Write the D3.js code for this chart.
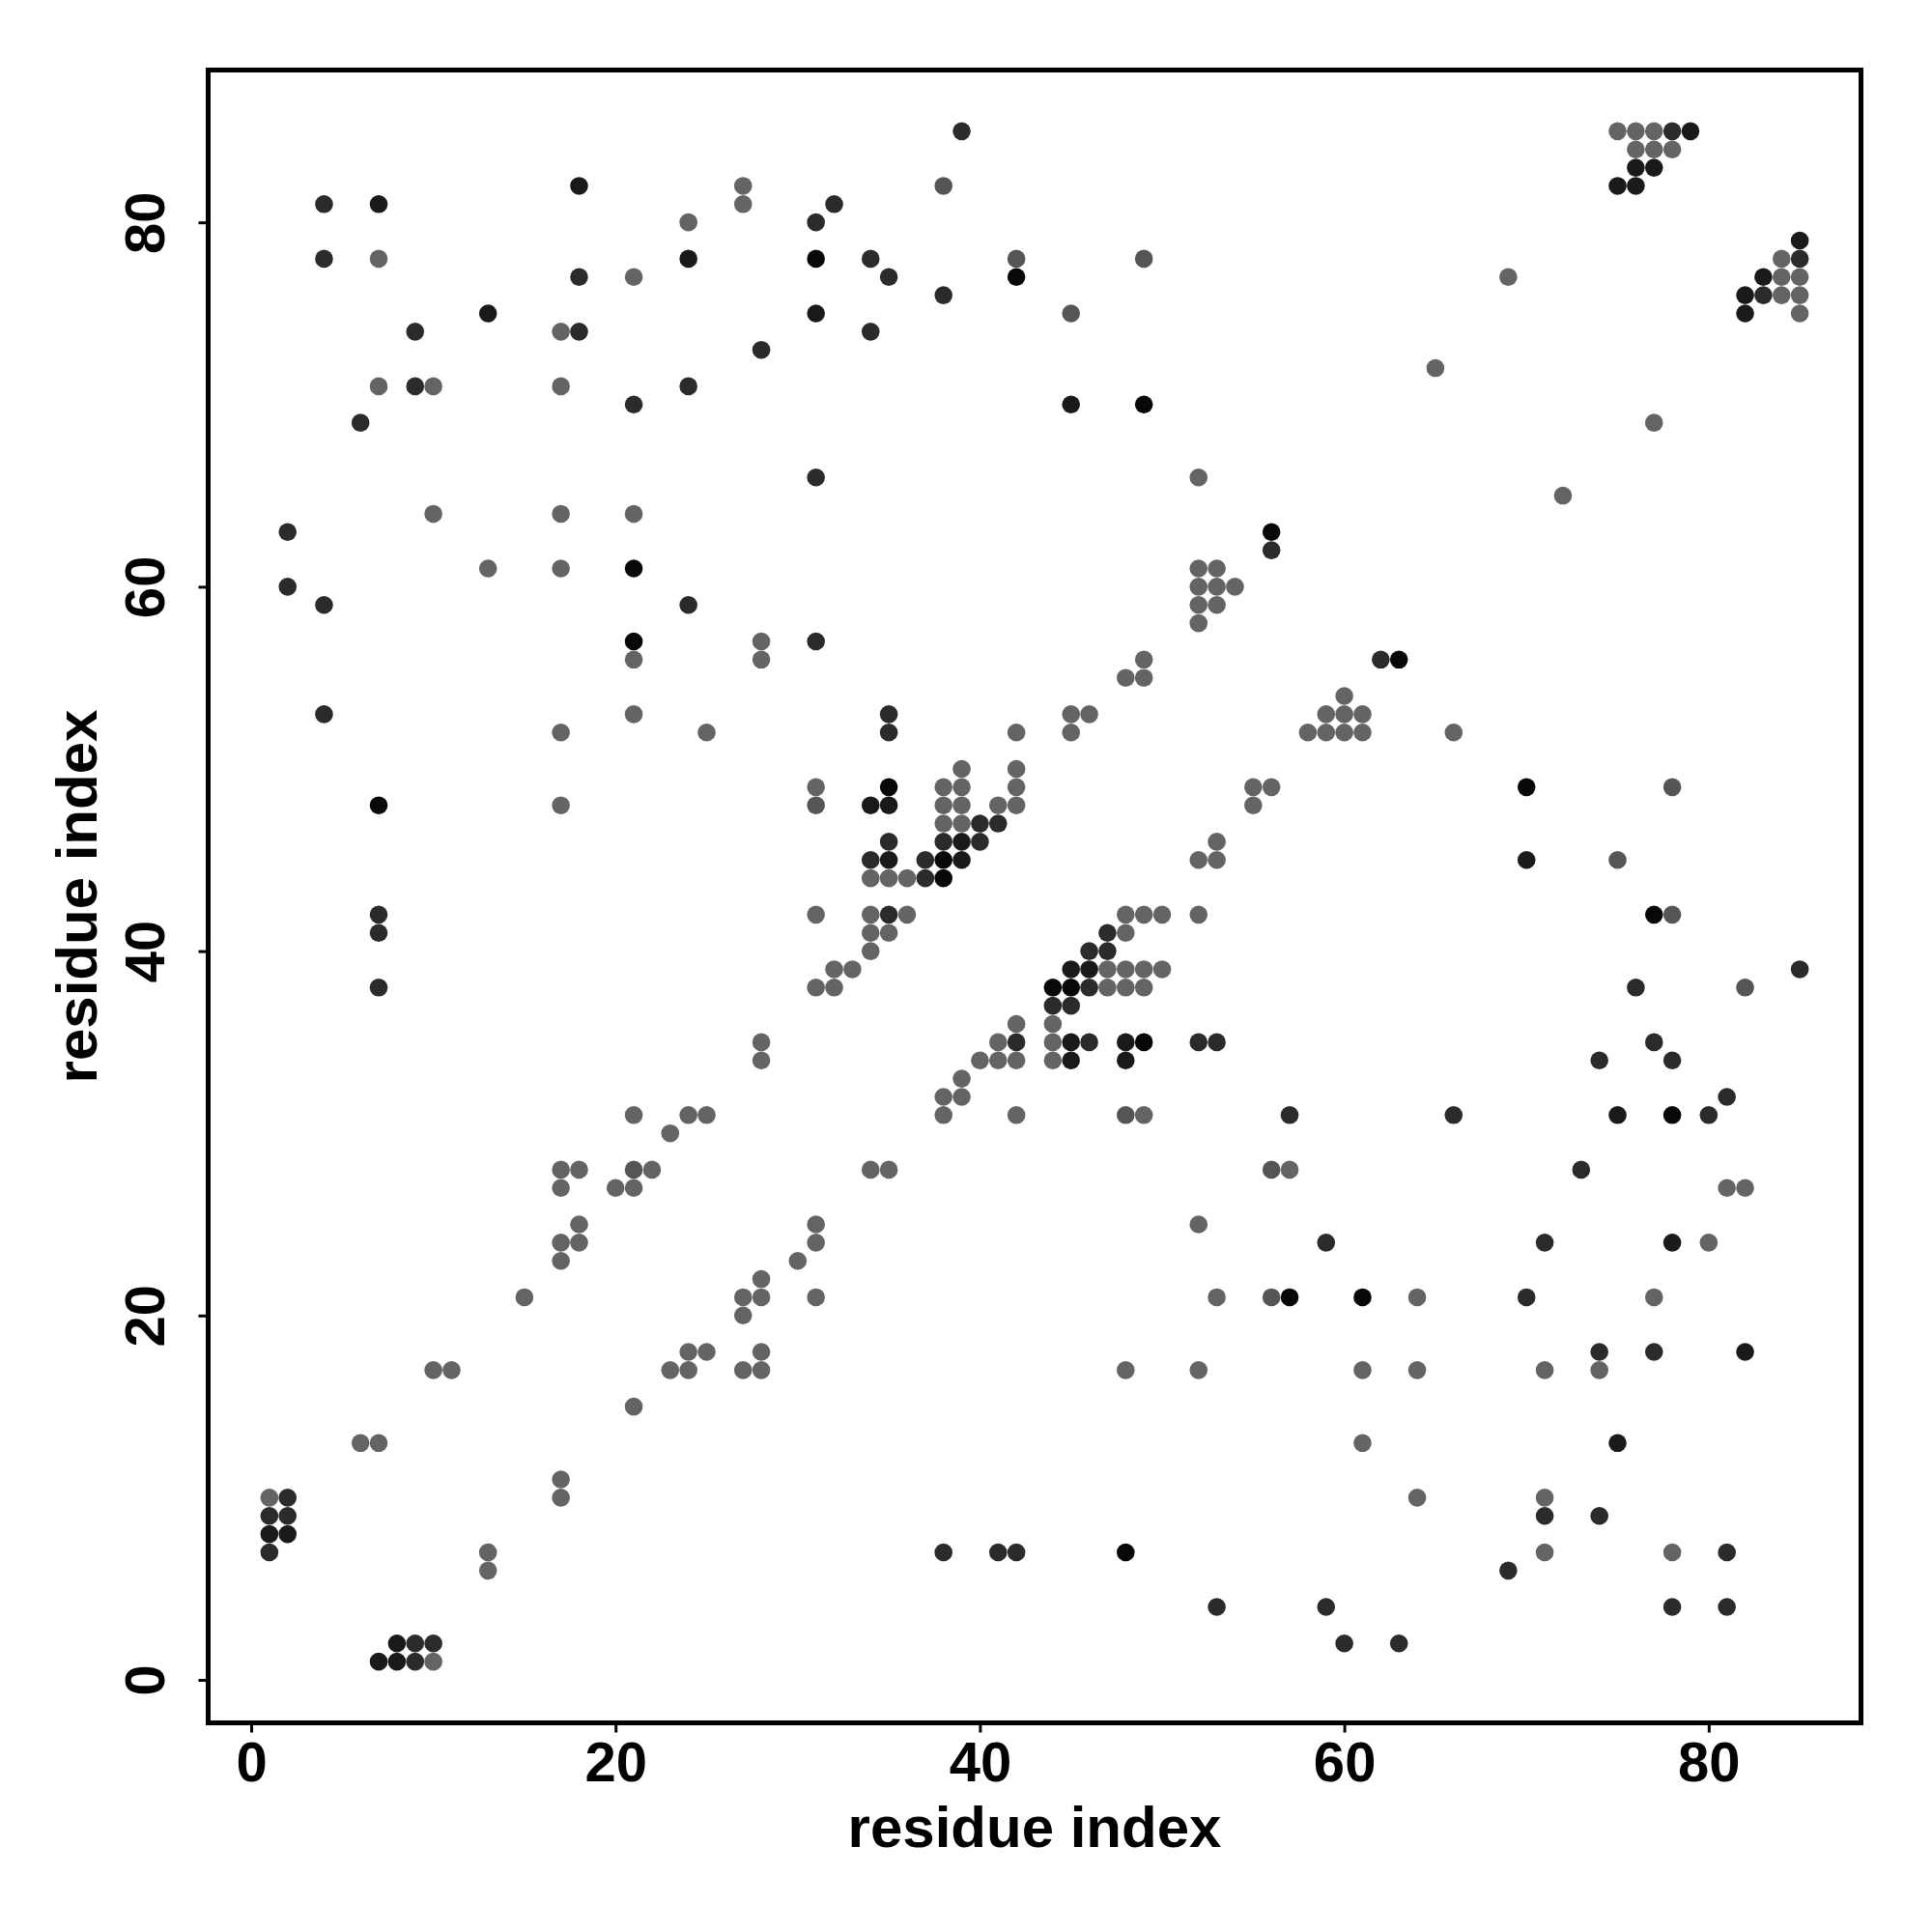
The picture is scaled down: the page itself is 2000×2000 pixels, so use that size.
<!DOCTYPE html>
<html>
<head>
<meta charset="utf-8">
<script src="https://cdn.jsdelivr.net/npm/d3@7"></script>
<style>
  html, body { margin: 0; padding: 0; background: #ffffff; }
  svg { display: block; }
</style>
</head>
<body>
<svg id="chart" width="2000" height="2000"></svg>
<script>
// ---- data: contact pairs [residue i, residue j], grouped by shade ----
const tickValues = [0, 20, 40, 60, 80];
const axisTitle = "residue index";

const blackContacts = [
  [21,61],[31,78],[42,77],[49,70],[56,63],[21,57],[7,48],[35,49],[38,45],[38,44],
  [44,38],[45,38],[49,35],[63,56],[70,49],[77,42],[78,31],[57,21],[48,7],[61,21]
];

const nearBlackContacts = [
  [18,82],[7,81],[24,78],[13,75],[31,75],[45,70],[79,85],[76,83],[77,83],[75,82],
  [76,82],[85,79],[83,77],[82,76],[82,75],[34,48],[35,48],[39,46],[35,45],[39,45],
  [45,39],[46,39],[45,35],[48,35],[45,34],[48,34],[70,45],[75,31],[1,8],[2,8],
  [8,2],[7,1],[8,1],[78,24],[82,18],[75,13]
];

const darkContacts = [
  [4,81],[4,78],[18,77],[9,74],[18,74],[28,73],[9,71],[24,71],[21,70],[6,69],
  [2,63],[2,60],[4,59],[24,59],[39,85],[32,81],[31,80],[34,78],[35,77],[38,76],
  [34,74],[31,66],[56,62],[78,85],[85,78],[83,76],[4,53],[7,42],[7,41],[7,38],
  [31,57],[35,53],[35,52],[40,47],[41,47],[35,46],[38,46],[40,46],[34,45],[37,45],
  [37,44],[35,42],[47,41],[46,40],[47,40],[46,38],[44,37],[45,37],[42,35],[46,35],
  [52,35],[53,35],[57,31],[62,56],[85,39],[76,38],[77,35],[74,34],[78,34],[81,32],
  [66,31],[80,31],[73,28],[2,10],[1,9],[2,9],[1,7],[9,2],[10,2],[9,1],
  [38,7],[41,7],[42,7],[53,4],[59,24],[71,24],[70,21],[74,18],[77,18],[71,9],
  [74,9],[81,7],[69,6],[59,4],[78,4],[81,4],[60,2],[63,2]
];

const midGreyContacts = [
  [38,82],[42,78],[49,78],[45,75],[31,48],[48,31],[56,28],[78,49],[75,45],[78,42],
  [82,38],[21,28],[56,21]
];

const greyContacts = [
  [27,82],[27,81],[24,80],[7,78],[21,77],[17,74],[7,71],[10,71],[17,71],[10,64],
  [17,64],[21,64],[13,61],[17,61],
  [52,66],[52,61],[53,61],[52,60],[53,60],[54,60],[52,59],[53,59],[52,58],
  [75,85],[76,85],[77,85],[76,84],[77,84],[78,84],[69,77],[65,72],[77,69],[72,65],
  [84,78],[84,77],[85,77],[84,76],[85,76],[85,75],
  [21,56],[28,57],[28,56],[21,53],[17,52],[25,52],[17,48],[28,35],[28,34],[21,31],
  [23,30],[24,31],[25,31],[17,28],[18,28],[22,28],
  [49,56],[48,55],[49,55],[42,52],[45,53],[46,53],[45,52],[39,50],[42,50],[31,49],
  [38,49],[39,49],[42,49],[55,49],[56,49],[55,48],[38,48],[39,48],[41,48],[42,48],
  [38,47],[39,47],[53,46],[52,45],[53,45],[34,44],[35,44],[36,44],[31,42],[34,42],
  [36,42],[48,42],[49,42],[50,42],[52,42],[34,41],[35,41],[48,41],[34,40],[32,39],
  [33,39],[47,39],[48,39],[49,39],[50,39],[31,38],[32,38],[47,38],[48,38],[49,38],
  [42,36],[44,36],[41,35],[44,35],[40,34],[41,34],[42,34],[44,34],[39,33],[38,32],
  [39,32],[38,31],[42,31],[49,31],[34,28],[35,28],[57,28],
  [60,54],[59,53],[60,53],[61,53],[58,52],[59,52],[60,52],[61,52],[66,52],[81,27],[82,27],
  [17,27],[20,27],[21,27],[18,25],[17,24],[18,24],[17,23],[15,21],[28,22],[27,21],
  [28,21],[27,20],[24,18],[25,18],[28,18],[23,17],[24,17],[27,17],[28,17],[10,17],
  [11,17],[21,15],[6,13],[7,13],[17,11],[17,10],[1,10],[13,7],[13,6],[10,1],
  [31,25],[31,24],[30,23],[31,21],[52,25],[53,21],[48,17],[52,17],
  [80,24],[64,21],[77,21],[61,17],[64,17],[71,17],[74,17],[61,13],[64,10],[71,10],
  [71,7],[78,7]
];

// ---- drawing ----
const svg = d3.select("#chart");
svg.append("rect").attr("width", 2000).attr("height", 2000).attr("fill", "#ffffff");

const allVals = [].concat(blackContacts, nearBlackContacts, darkContacts, midGreyContacts, greyContacts);
const lo = d3.min(allVals, d => Math.min(d[0], d[1]));
const hi = d3.max(allVals, d => Math.max(d[0], d[1]));
const pad = (hi - lo) * 0.04;

const box = { left: 215.5, right: 1926.5, top: 72.5, bottom: 1783.5 };
const x = d3.scaleLinear().domain([lo - pad, hi + pad]).range([box.left, box.right]);
const y = d3.scaleLinear().domain([lo - pad, hi + pad]).range([box.bottom, box.top]);

const groups = [
  { data: greyContacts, color: "#646464" },
  { data: midGreyContacts, color: "#555555" },
  { data: darkContacts, color: "#2b2b2b" },
  { data: nearBlackContacts, color: "#1a1a1a" },
  { data: blackContacts, color: "#080808" }
];

const pts = svg.append("g");
groups.forEach(g => {
  pts.selectAll(null).data(g.data).enter().append("circle")
    .attr("cx", d => x(d[0]))
    .attr("cy", d => y(d[1]))
    .attr("r", 9.3)
    .attr("fill", g.color);
});

const fontFam = "'Liberation Sans', Arial, Helvetica, sans-serif";

// x axis
const xAxis = svg.append("g")
  .attr("transform", `translate(0,${box.bottom})`)
  .call(d3.axisBottom(x).tickValues(tickValues).tickSize(10).tickFormat(d3.format("d")));
xAxis.select(".domain").remove();
xAxis.selectAll(".tick line").attr("stroke", "#000").attr("stroke-width", 3);
xAxis.selectAll(".tick text")
  .attr("y", 60).attr("dy", null)
  .attr("fill", "#000")
  .style("font-family", fontFam).style("font-weight", "bold").style("font-size", "58px");

// y axis
const yAxis = svg.append("g")
  .attr("transform", `translate(${box.left},0)`)
  .call(d3.axisLeft(y).tickValues(tickValues).tickSize(10).tickFormat(d3.format("d")));
yAxis.select(".domain").remove();
yAxis.selectAll(".tick line").attr("stroke", "#000").attr("stroke-width", 3);
yAxis.selectAll(".tick text")
  .attr("x", 0).attr("y", 0).attr("dy", null)
  .attr("text-anchor", "middle")
  .attr("transform", "translate(-46,0) rotate(-90)")
  .attr("fill", "#000")
  .style("font-family", fontFam).style("font-weight", "bold").style("font-size", "58px");

// frame
svg.append("rect")
  .attr("x", box.left).attr("y", box.top)
  .attr("width", box.right - box.left).attr("height", box.bottom - box.top)
  .attr("fill", "none").attr("stroke", "#000").attr("stroke-width", 5);

// titles
svg.append("text")
  .attr("x", (box.left + box.right) / 2).attr("y", 1912)
  .attr("text-anchor", "middle")
  .style("font-family", fontFam).style("font-weight", "bold").style("font-size", "60px")
  .text(axisTitle);

svg.append("text")
  .attr("transform", `translate(100,${(box.top + box.bottom) / 2}) rotate(-90)`)
  .attr("text-anchor", "middle")
  .style("font-family", fontFam).style("font-weight", "bold").style("font-size", "60px")
  .text(axisTitle);
</script>
</body>
</html>
